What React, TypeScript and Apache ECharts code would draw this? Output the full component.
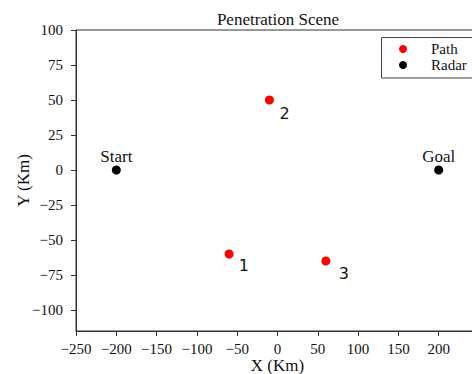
import React, { useEffect, useRef } from "react";
import * as echarts from "echarts";

const pathNames = ["1", "2", "3"];
const pathX = [-60, -10, 60];
const pathY = [-60, 50, -65];
const radarNames = ["Start", "Goal"];
const radarX = [-200, 200];
const radarY = [0, 0];
const yTickValues = [-100, -75, -50, -25, 0, 25, 50, 75, 100];
const titleText = "Penetration Scene";
const xName = "X (Km)";
const yName = "Y (Km)";
const legendNames = ["Path", "Radar"];
const seriesColors = ["#ff0000", "#000000"];

// label offsets (px, relative to symbol bounding box)
const pathLabelOffsets = [
  [14, 16],
  [14.5, 18],
  [17.5, 17],
];

const serif = "Liberation Serif";
const minus = (v: number) => String(v).replace("-", "\u2212");

export default function App() {
  const ref = useRef<HTMLDivElement>(null);
  useEffect(() => {
    if (!ref.current) return;
    const chart = echarts.init(ref.current, undefined, { renderer: "svg" });
    const axisColor = "#333";
    const legendX = 381.5;
    const legendY = 37.5;
    const legendRowY = [49, 65];
    const legendEls: any[] = [
      {
        type: "rect",
        shape: { x: legendX, y: legendY, width: 110, height: 40.5 },
        style: { fill: "#fff", stroke: "#444", lineWidth: 1 },
        z: 100,
      },
    ];
    legendNames.forEach((n, i) => {
      legendEls.push({
        type: "circle",
        shape: { cx: 403, cy: legendRowY[i], r: 4 },
        style: { fill: seriesColors[i] },
        z: 101,
      });
      legendEls.push({
        type: "text",
        x: 431,
        y: legendRowY[i],
        style: {
          text: n,
          fontFamily: serif,
          fontSize: 15,
          fill: "#111",
          align: "left",
          verticalAlign: "middle",
        },
        z: 101,
      });
    });
    chart.setOption({
      animation: false,
      backgroundColor: "#fff",
      graphic: [
        {
          type: "text",
          x: 278,
          y: 19.5,
          style: {
            text: titleText,
            fontFamily: serif,
            fontSize: 17,
            fill: "#111",
            align: "center",
            verticalAlign: "middle",
          },
        },
        ...legendEls,
      ],
      grid: {
        left: 76,
        top: 30,
        width: 403,
        height: 301,
        show: true,
        borderColor: axisColor,
        borderWidth: 1,
        containLabel: false,
        outerBoundsMode: "none",
      },
      xAxis: {
        type: "value",
        min: -250,
        max: 250,
        interval: 50,
        name: xName,
        nameLocation: "middle",
        nameGap: 26,
        nameMoveOverlap: false,
        nameTextStyle: { fontFamily: serif, fontSize: 17, color: "#111", lineHeight: 16 },
        axisLine: { show: true, onZero: false, lineStyle: { color: axisColor, width: 1 } },
        axisTick: { show: true, inside: false, length: 5, lineStyle: { color: axisColor } },
        axisLabel: {
          show: true,
          margin: 11,
          showMaxLabel: false,
          fontFamily: serif,
          fontSize: 15,
          lineHeight: 14,
          color: "#111",
          formatter: minus,
        },
        splitLine: { show: false },
      },
      yAxis: {
        type: "value",
        min: -115,
        max: 100,
        name: yName,
        nameLocation: "middle",
        nameGap: 44,
        nameRotate: 90,
        nameMoveOverlap: false,
        nameTextStyle: { fontFamily: serif, fontSize: 17, color: "#111" },
        axisLine: { show: true, onZero: false, lineStyle: { color: axisColor, width: 1 } },
        axisTick: {
          show: true,
          inside: false,
          length: 5,
          lineStyle: { color: axisColor },
          customValues: yTickValues,
        },
        axisLabel: {
          show: true,
          margin: 13,
          fontFamily: serif,
          fontSize: 15,
          color: "#111",
          formatter: minus,
          customValues: yTickValues,
        },
        splitLine: { show: false },
      },
      series: [
        {
          name: legendNames[0],
          type: "scatter",
          symbol: "circle",
          symbolSize: 9,
          itemStyle: { color: seriesColors[0], opacity: 1 },
          data: pathX.map((x, i) => ({
            name: pathNames[i],
            value: [x, pathY[i]],
            label: {
              show: true,
              position: pathLabelOffsets[i],
              align: "left",
              verticalAlign: "middle",
              formatter: pathNames[i],
              fontFamily: "DejaVu Sans",
              fontSize: 16,
              color: "#111",
            },
          })),
        },
        {
          name: legendNames[1],
          type: "scatter",
          symbol: "circle",
          symbolSize: 9,
          itemStyle: { color: seriesColors[1], opacity: 1 },
          label: {
            show: true,
            position: "top",
            distance: 1,
            formatter: (p: any) => p.name,
            fontFamily: serif,
            fontSize: 17,
            color: "#111",
          },
          data: radarX.map((x, i) => ({ name: radarNames[i], value: [x, radarY[i]] })),
        },
      ],
    });
    return () => chart.dispose();
  }, []);
  return (
    <div
      ref={ref}
      style={{ position: "fixed", left: 0, top: 0, width: 472, height: 374 }}
    />
  );
}
